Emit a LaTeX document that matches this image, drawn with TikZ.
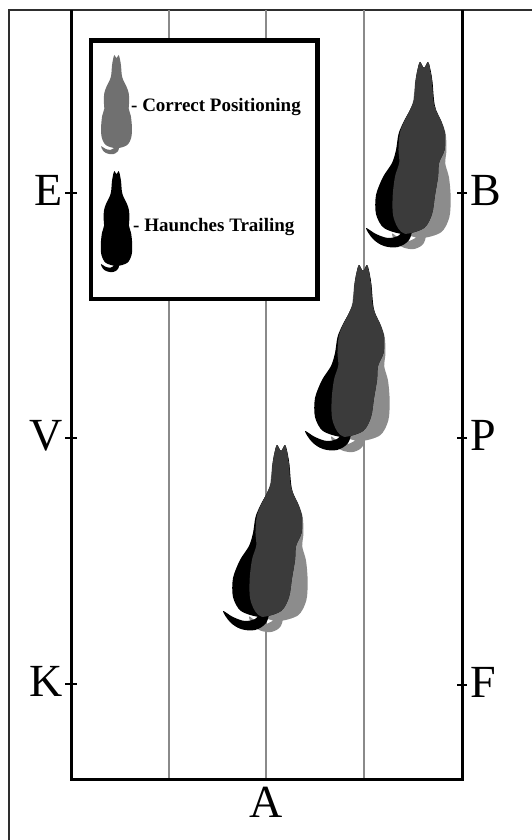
\documentclass[tikz,border=0pt]{standalone}
\usepackage{fontspec}
\setmainfont{Liberation Serif}
\definecolor{lanegray}{HTML}{8A8A8A}
\definecolor{framegray}{HTML}{2E2E2E}
\definecolor{graycoat}{HTML}{8C8C8C}
\definecolor{keygray}{HTML}{707070}
\definecolor{darkcoat}{HTML}{3B3B3B}
% top view of a horse, ears at the origin, y pointing down
\newcommand\horsebody{plot[smooth cycle, tension=0.5] coordinates {
  (0,6) (4,0) (6.5,8) (8.5,20) (10,38) (13,48) (19,60) (23,72) (24,88)
  (23,101) (27,115) (29,135) (28,155) (20,170) (0,176)
  (-20,170) (-28,155) (-29,135) (-27,115) (-23,101) (-24,88) (-23,72)
  (-19,60) (-13,48) (-10,38) (-8.5,20) (-6.5,8) (-4,0)}}
\newcommand\horsetail{plot[smooth cycle, tension=0.6] coordinates {
  (5,168) (3,181) (-6,187) (-17,186) (-25,181) (-29,172) (-21,177) (-11,179)
  (-3,174)}}
% the same horse with its haunches swung out to the left
\newcommand\trailbody{plot[smooth cycle, tension=0.5] coordinates {
  (0,6) (4,0) (6.5,8) (8.5,20) (10,38) (12,48) (17.5,60) (21,72) (20.5,88)
  (15,101) (14,115) (11,133) (8,152) (0,166) (-20,172)
  (-40,166) (-48,152) (-48,133) (-41,115) (-32,101) (-28,88) (-25.5,72)
  (-20.5,60) (-14,48) (-10,38) (-8.5,20) (-6.5,8) (-4,0)}}
\newcommand\trailtail{plot[smooth cycle, tension=0.6] coordinates {
  (-12,166) (-15,178) (-26,185) (-40,184) (-51,177) (-58,166) (-48,172)
  (-36,176) (-26,174) (-19,168)}}
% correct (grey) and haunches-trailing (black) horse sharing the same forehand
\newcommand\horsepair[2]{%
  \fill[graycoat, shift={(#1,#2)}, rotate=-1] \horsebody \horsetail;
  \fill[black, shift={(#1,#2)}] \trailbody \trailtail;
  \begin{scope}
    \clip[shift={(#1,#2)}, rotate=-1] \horsebody;
    \fill[darkcoat, shift={(#1,#2)}] \trailbody;
  \end{scope}}
\begin{document}
\begin{tikzpicture}[x=1pt, y=-1pt,
  arena/.style={line width=3pt, black},
  lane/.style={line width=1.2pt, lanegray},
  tick/.style={line width=2.5pt, black},
  letter/.style={font=\fontsize{46}{46}\selectfont, inner sep=0pt},
  keytext/.style={font=\bfseries\fontsize{19}{19}\selectfont, inner sep=0pt, anchor=base west},
  keybox/.style={draw, line width=4.5pt, fill=white, inner sep=0pt, anchor=north west}]
\useasboundingbox (0,0) rectangle (532,840);
\fill[white] (0,0) rectangle (532,840);

% outer frame
\coordinate (fbl) at (9,840);
\coordinate (ftl) at (9,10);
\coordinate (ftr) at (532,10);
\draw[line width=2pt, framegray] (fbl) -- (ftl) -- (ftr);

% lanes
\foreach \x/\n in {169/l1, 266/l2, 364/l3} {
  \coordinate (\n t) at (\x,10);
  \coordinate (\n b) at (\x,779);
  \draw[lane] (\n t) -- (\n b);
}

% arena fence
\coordinate (atl) at (71,10);
\coordinate (abl) at (71,779);
\coordinate (abr) at (462,779);
\coordinate (atr) at (462,10);
\draw[arena, line join=miter] (atl) -- (abl) -- (abr) -- (atr);

% markers
\foreach \y/\n in {193/e, 438/v, 684/k} {
  \coordinate (\n1) at (65,\y); \coordinate (\n2) at (77,\y);
  \draw[tick] (\n1) -- (\n2);
}
\foreach \y/\n in {193/b, 438/p, 685/f} {
  \coordinate (\n1) at (457,\y); \coordinate (\n2) at (467,\y);
  \draw[tick] (\n1) -- (\n2);
}
\node[letter, anchor=base east] (E) at (63,205) {E};
\node[letter, anchor=base east] (V) at (63,450) {V};
\node[letter, anchor=base east] (K) at (63,696) {K};
\node[letter, anchor=base west] (B) at (470,205) {B};
\node[letter, anchor=base west] (P) at (470,450) {P};
\node[letter, anchor=base west] (F) at (470,697) {F};
\node[letter, anchor=base] (A) at (266,817) {A};

% key
\node[keybox, minimum width=226.5pt, minimum height=258pt] (key) at (88.5,38.5) {};
\fill[keygray, shift={(116.5,55)}, scale=0.53] \horsebody \horsetail;
\fill[black, shift={(116.5,171)}, scale=0.54] \horsebody \horsetail;
\node[keytext] (kc) at (131,111.5) {- Correct Positioning};
\node[keytext] (kh) at (133,231) {- Haunches Trailing};

% horses
\horsepair{424}{62}
\horsepair{363}{265}
\horsepair{281}{445}
\end{tikzpicture}
\end{document}
